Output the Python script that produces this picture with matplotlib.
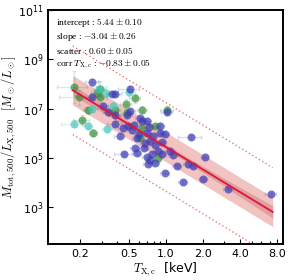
import numpy as np
import matplotlib
matplotlib.use('Agg')
import matplotlib.pyplot as plt
from matplotlib.ticker import FixedLocator, FixedFormatter, LogLocator, NullFormatter

plt.rcParams['mathtext.fontset'] = 'cm'

# fit parameters (log10 M/L = intercept + slope * log10 T)
intercept, intercept_err = 5.44, 0.10
slope, slope_err = -3.04, 0.26
scatter, scatter_err = 0.60, 0.05
corr, corr_err = -0.83, 0.05
fit_range = [0.175, 7.4]

# green sample: T [keV], T err, log10(M/L), log err
green_T = [0.179, 0.196, 0.275, 0.291, 0.232, 0.207, 0.255, 0.56, 0.291, 0.385,
           0.47, 0.64, 1.02, 0.81, 0.64, 0.615, 0.48, 0.86]
green_Terr = [0.05, 0.06, 0.03, 0.04, 0.02, 0.03, 0.02, 0.06, 0.03, 0.04,
              0.05, 0.06, 0.12, 0.08, 0.05, 0.05, 0.04, 0.06]
green_L = [7.89, 7.45, 7.65, 7.45, 6.92, 6.55, 6.02, 7.41, 7.81, 6.92,
           7.20, 6.96, 6.96, 6.31, 6.19, 5.82, 6.80, 4.97]
green_Lerr = [0.65, 0.30, 0.25, 0.20, 0.15, 0.20, 0.15, 0.20, 0.30, 0.15,
              0.20, 0.15, 0.15, 0.10, 0.12, 0.10, 0.12, 0.10]

# cyan sample
cyan_T = [0.325, 0.285, 0.50, 0.251, 0.179, 0.232, 0.332, 0.37]
cyan_Terr = [0.08, 0.03, 0.06, 0.03, 0.04, 0.02, 0.03, 0.04]
cyan_L = [7.65, 7.81, 7.69, 7.00, 6.39, 6.31, 6.15, 7.12]
cyan_Lerr = [0.25, 0.30, 0.20, 0.15, 0.15, 0.15, 0.12, 0.15]

# blue sample
blue_T = [0.251, 0.385, 0.51, 0.364, 0.308, 0.251, 0.385, 0.385, 0.48, 0.53,
          0.58, 0.73, 0.89, 0.98, 0.93, 0.675, 0.456, 0.56, 0.58, 0.77,
          0.93, 1.08, 0.64, 0.89, 1.02, 1.60, 2.07, 0.74, 0.81, 0.98,
          1.23, 1.51, 1.66, 1.38, 2.00, 3.19, 7.14, 0.70, 0.71, 0.49,
          0.42, 0.74, 0.81, 0.86, 0.34, 0.51, 0.70, 0.615, 0.70, 0.60,
          0.66, 0.45, 0.55, 1.15, 0.78]
blue_Terr = [0.03, 0.05, 0.10, 0.04, 0.03, 0.03, 0.04, 0.05, 0.05, 0.05,
             0.05, 0.06, 0.08, 0.08, 0.08, 0.06, 0.08, 0.05, 0.05, 0.06,
             0.08, 0.10, 0.06, 0.08, 0.10, 0.35, 0.15, 0.06, 0.07, 0.08,
             0.10, 0.12, 0.15, 0.12, 0.15, 0.30, 0.70, 0.06, 0.06, 0.04,
             0.04, 0.06, 0.07, 0.07, 0.03, 0.05, 0.06, 0.05, 0.06, 0.05,
             0.06, 0.04, 0.05, 0.10, 0.07]
blue_L = [8.06, 7.61, 7.81, 7.61, 7.12, 7.45, 6.72, 6.39, 6.72, 6.11,
          5.82, 6.23, 6.02, 5.98, 5.62, 5.58, 5.17, 5.41, 5.21, 5.17,
          5.17, 5.29, 6.51, 6.31, 6.84, 5.86, 5.05, 4.89, 4.80, 4.40,
          4.68, 4.76, 4.68, 4.03, 4.15, 3.75, 3.54, 5.01, 4.76, 6.31,
          5.90, 5.70, 5.50, 5.29, 6.84, 6.90, 6.50, 6.60, 6.00, 5.95,
          5.40, 6.20, 6.35, 5.10, 5.90]
blue_Lerr = [0.15, 0.12, 0.12, 0.10, 0.10, 0.12, 0.10, 0.10, 0.10, 0.10,
             0.08, 0.10, 0.10, 0.10, 0.08, 0.08, 0.08, 0.08, 0.08, 0.08,
             0.08, 0.08, 0.10, 0.10, 0.10, 0.08, 0.08, 0.08, 0.08, 0.08,
             0.08, 0.08, 0.08, 0.08, 0.08, 0.08, 0.08, 0.08, 0.08, 0.10,
             0.10, 0.08, 0.08, 0.08, 0.10, 0.10, 0.10, 0.10, 0.08, 0.08,
             0.08, 0.10, 0.10, 0.08, 0.08]

samples = [
    (green_T, green_Terr, green_L, green_Lerr, '#3a8f3a'),
    (cyan_T, cyan_Terr, cyan_L, cyan_Lerr, '#45c8bc'),
    (blue_T, blue_Terr, blue_L, blue_Lerr, '#3c3cb4'),
]

fig = plt.figure(figsize=(2.91, 2.80), dpi=100)
ax = fig.add_axes([0.165, 0.129, 0.808, 0.835])

# fit line, uncertainty band, scatter band, 3 sigma lines
T = np.logspace(np.log10(fit_range[0]), np.log10(fit_range[1]), 100)
lt = np.log10(T)
mu = intercept + slope * lt
sig = np.sqrt(intercept_err**2 + (slope_err * lt)**2)
ax.fill_between(T, 10**(mu - scatter), 10**(mu + scatter), color='#d9534f', alpha=0.35, lw=0, zorder=1)
ax.fill_between(T, 10**(mu - sig), 10**(mu + sig), color='#b03030', alpha=0.25, lw=0, zorder=1)
ax.plot(T, 10**mu, color='#e0143c', lw=1.3, zorder=5)
for k in (-3, 3):
    ax.plot(T, 10**(mu + k * scatter), color='#f07878', lw=1.0, ls=(0, (1, 1.8)), zorder=2)

for t, terr, l, lerr, c in samples:
    t = np.array(t)
    l = np.array(l)
    ax.errorbar(t, 10**l, xerr=terr,
                yerr=[10**l - 10**(l - np.array(lerr)), 10**(l + np.array(lerr)) - 10**l],
                fmt='none', ecolor=c, alpha=0.18, elinewidth=1.0, capsize=1.5, zorder=3)
    ax.plot(t, 10**l, 'o', color=c, alpha=0.7, ms=5.8, mew=0, zorder=4)

ax.set_xscale('log')
ax.set_yscale('log')
ax.set_xlim(0.11, 9.0)
ax.set_ylim(10**1.5, 1e11)

ax.xaxis.set_major_locator(FixedLocator([0.2, 0.5, 1.0, 2.0, 4.0, 8.0]))
ax.xaxis.set_major_formatter(FixedFormatter(['0.2', '0.5', '1.0', '2.0', '4.0', '8.0']))
ax.xaxis.set_minor_locator(LogLocator(base=10, subs=np.arange(2, 10)))
ax.xaxis.set_minor_formatter(NullFormatter())
ax.set_yticks([1e3, 1e5, 1e7, 1e9, 1e11])
ax.yaxis.set_minor_locator(FixedLocator([]))
ax.tick_params(which='both', direction='in', labelsize=8, width=0.8)
ax.tick_params(which='major', length=3.5)
ax.tick_params(which='minor', length=2)
for s in ax.spines.values():
    s.set_linewidth(1.4)

ax.set_xlabel(r'$T_{\rm X,c}$  [keV]', fontsize=9, labelpad=1)
ax.set_ylabel(r'$M_{\rm tot,500}/L_{\rm X,500}$  $[M_\odot/L_\odot]$', fontsize=9, labelpad=0)

lines = [
    r'intercept : $%.2f\pm%.2f$' % (intercept, intercept_err),
    r'slope : $%.2f\pm%.2f$' % (slope, slope_err),
    r'scatter : $%.2f\pm%.2f$' % (scatter, scatter_err),
    r'corr $T_{\rm X,c}$ : $%.2f\pm%.2f$' % (corr, corr_err),
]
ax.text(0.035, 0.975, '\n'.join(lines), transform=ax.transAxes, va='top', ha='left',
        fontsize=6.8, family='Liberation Serif', linespacing=1.15)

fig.savefig('out.png', dpi=100)
